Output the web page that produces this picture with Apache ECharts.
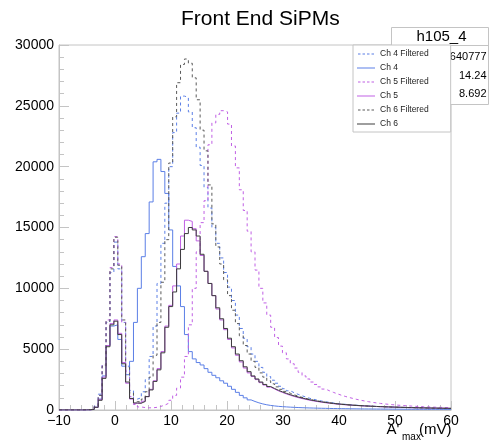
<!DOCTYPE html>
<html><head><meta charset="utf-8">
<script src="https://cdn.jsdelivr.net/npm/echarts@6/dist/echarts.min.js"></script>
<style>html,body{margin:0;padding:0;background:#fff;}#c{width:490px;height:443px;}</style>
</head><body><div id="c"></div>
<script>
// Histogram binning (100 bins from -10 to 60 mV)
const binStart = -10;
const binWidth = 0.7;
const xTicks = [-10, 0, 10, 20, 30, 40, 50, 60];
const yTicks = [0, 5000, 10000, 15000, 20000, 25000, 30000];
const seriesNames = ['Ch 4 Filtered', 'Ch 4', 'Ch 5 Filtered', 'Ch 5', 'Ch 6 Filtered', 'Ch 6'];

const ch4Filtered = [0,0,0,0,0,0,5,20,80,350,1300,3700,7200,11300,13800,11600,7200,3600,1600,900,
1000,1500,2500,4400,6900,10400,13700,17000,20000,22800,24400,25800,25700,24500,23200,21600,20100,18300,16600,15000,
13700,12500,11300,10100,9000,7800,6700,5900,5200,4600,4000,3500,3100,2750,2450,2200,1950,1750,1580,1420,
1290,1170,1060,960,880,800,740,680,630,580,540,500,470,440,410,390,370,350,330,310,
295,280,265,255,245,235,225,215,205,195,185,178,170,163,156,150,145,140,135,130];

const ch4 = [0,0,0,0,0,0,5,15,50,230,900,2800,5300,6900,7000,5800,3600,2900,4000,7200,
10000,12600,14500,17100,20400,20600,19600,17800,14800,11800,10200,8500,6200,4800,4200,3900,3700,3400,3100,2850,
2650,2400,2200,1950,1700,1450,1200,1000,830,700,590,500,430,375,335,300,275,255,235,218,
203,190,178,168,158,150,142,135,128,122,116,111,106,102,98,94,90,87,84,81,
78,76,74,72,70,68,66,64,62,60,58,57,56,55,54,53,52,51,50,49];

const ch5Filtered = [0,0,0,0,0,0,5,20,70,300,1200,3700,7400,11700,14250,12000,7200,3200,1100,450,
250,200,180,180,220,300,400,560,800,1200,1800,2700,4400,7000,10000,13000,15400,17200,21800,23600,
24300,24600,24500,23500,21700,19900,18100,16400,14700,13000,11500,10000,8800,7800,6800,5950,5250,4700,4200,3800,
3450,3100,2800,2550,2300,2100,1900,1720,1580,1450,1330,1220,1120,1030,950,870,800,740,680,630,
580,540,500,470,440,410,385,360,340,320,300,285,270,255,240,230,220,210,200,190];

const ch5 = [0,0,0,0,0,0,5,15,50,220,850,2700,5300,7100,7400,6300,3900,2200,900,550,
550,720,1100,1700,2400,3400,4800,6900,8600,10200,12000,14300,15600,15500,14900,13900,12700,11400,10400,9400,
8300,7400,6600,5800,5100,4500,3950,3450,3050,2750,2500,2250,2050,1880,1720,1570,1440,1320,1210,1110,
1020,940,870,800,740,690,640,595,555,520,485,455,430,405,385,365,345,330,315,300,
285,272,260,250,240,230,220,210,200,192,185,178,171,165,159,153,148,143,138,133];

const ch6Filtered = [0,0,0,0,0,0,5,20,70,300,1200,3600,7300,11600,14200,11900,7400,3500,1400,700,
650,900,1500,2700,4500,7200,10500,14000,20300,24100,26900,28400,28850,28500,27300,25500,23000,21300,18500,15300,
13400,12000,10700,9400,8200,7100,6100,5300,4600,4000,3500,3050,2700,2400,2150,1900,1700,1530,1380,1250,
1140,1040,950,870,800,740,680,630,590,550,510,480,450,420,400,380,360,340,320,305,
290,275,260,250,240,230,220,210,200,190,180,175,170,160,155,150,145,140,135,130];

const ch6 = [0,0,0,0,0,0,5,15,50,220,800,2600,5200,7000,7300,6200,3800,2300,950,580,
560,700,1100,1650,2350,3300,4700,6800,8500,9700,11600,13200,14500,15000,14800,14300,12800,11400,10400,9400,
8400,7500,6700,5900,5200,4600,4050,3550,3150,2800,2550,2300,2100,1930,1770,1620,1490,1370,1260,1160,
1070,990,910,840,780,720,670,625,580,540,505,475,445,420,395,375,355,338,322,306,
292,279,266,255,244,234,224,215,206,198,190,183,176,169,163,157,151,146,141,136];

const statsTitle = 'h105_4';
const statsValues = ['640777', '14.24', '8.692'];

function toSteps(vals) {
  const pts = vals.map((v, i) => [binStart + i * binWidth, v]);
  pts.push([binStart + vals.length * binWidth, vals[vals.length - 1]]);
  return pts;
}

const BLUE = '#5b7fe6', VIOLET = '#c060e4', DARK = '#3c3c3c', GREY = '#5a5a5a';
const FRAME = '#c4c4c4';
const FONT = 'Liberation Sans, Arial, sans-serif';
const DASH_ICON = 'path://M0,0h2.5v1h-2.5zM4.5,0h2.5v1h-2.5zM9,0h2.5v1h-2.5zM13.5,0h2.5v1h-2.5z';
const styles = [
  {color: BLUE, dash: [3, 3], icon: DASH_ICON},
  {color: BLUE, dash: 'solid', icon: 'rect'},
  {color: VIOLET, dash: [3, 3], icon: DASH_ICON},
  {color: VIOLET, dash: 'solid', icon: 'rect'},
  {color: GREY, dash: [3, 3], icon: DASH_ICON},
  {color: DARK, dash: 'solid', icon: 'rect'}
];
const allData = [ch4Filtered, ch4, ch5Filtered, ch5, ch6Filtered, ch6];

const fmtX = v => (v < 0 ? '\u2212' + (-v) : String(v));
const fmtY = v => String(v);

const chart = echarts.init(document.getElementById('c'), null, {renderer: 'canvas'});
chart.setOption({
  animation: false,
  backgroundColor: '#fff',
  title: {
    text: 'Front End SiPMs', left: 181, top: 9, padding: 0,
    textStyle: {fontFamily: FONT, fontSize: 21, fontWeight: 'normal', color: '#000'}
  },
  grid: {left: 59, right: 39, top: 45, bottom: 33, show: true, borderColor: FRAME, borderWidth: 1,
    containLabel: false, outerBoundsMode: 'none'},
  xAxis: {
    type: 'value', min: xTicks[0], max: xTicks[xTicks.length - 1], interval: 10,
    axisLine: {show: true, onZero: false, lineStyle: {color: FRAME, width: 1}},
    axisTick: {show: true, inside: true, length: 9, lineStyle: {color: FRAME}},
    minorTick: {show: true, splitNumber: 5, length: 5, lineStyle: {color: FRAME}},
    splitLine: {show: false}, minorSplitLine: {show: false},
    axisLabel: {color: '#000', fontFamily: FONT, fontSize: 14, margin: 4, formatter: fmtX, showMinLabel: true, showMaxLabel: true, hideOverlap: false}
  },
  yAxis: {
    type: 'value', min: yTicks[0], max: yTicks[yTicks.length - 1], interval: 5000,
    axisLine: {show: true, onZero: false, lineStyle: {color: FRAME, width: 1}},
    axisTick: {show: true, inside: true, length: 10, lineStyle: {color: FRAME}},
    minorTick: {show: true, splitNumber: 5, length: 5, lineStyle: {color: FRAME}},
    splitLine: {show: false}, minorSplitLine: {show: false},
    axisLabel: {color: '#000', fontFamily: FONT, fontSize: 14, margin: 5, formatter: fmtY, showMinLabel: true, showMaxLabel: true, hideOverlap: false}
  },
  legend: {
    orient: 'vertical', left: 353, top: 45, z: 10,
    padding: [4.5, 22, 3.5, 4], itemGap: 5, itemWidth: 18, itemHeight: 1,
    backgroundColor: '#fff', borderColor: FRAME, borderWidth: 1, borderRadius: 0,
    textStyle: {fontFamily: FONT, fontSize: 8.5, color: '#222'},
    data: seriesNames.map((n, k) => ({
      name: n,
      icon: styles[k].icon,
      itemStyle: {color: styles[k].color, borderWidth: 0, opacity: 1}
    }))
  },
  series: allData.map((arr, k) => ({
    name: seriesNames[k], type: 'line', step: 'end', symbol: 'none', showSymbol: false,
    data: toSteps(arr), clip: true,
    lineStyle: {width: 1, color: styles[k].color, type: styles[k].dash},
    itemStyle: {color: styles[k].color},
    emphasis: {disabled: true}
  })),
  graphic: [
    {type: 'rect', z: 1, shape: {x: 391.5, y: 27.5, width: 97, height: 77}, style: {fill: '#fff', stroke: FRAME, lineWidth: 1}},
    {type: 'line', z: 1, shape: {x1: 391.5, y1: 45.5, x2: 488.5, y2: 45.5}, style: {stroke: FRAME, lineWidth: 1}},
    {type: 'text', z: 2, x: 441.5, y: 37, style: {text: statsTitle, align: 'center', verticalAlign: 'middle', fontFamily: FONT, fontSize: 15, fill: '#000'}},
    {type: 'text', z: 2, x: 486.5, y: 57, style: {text: statsValues[0], align: 'right', verticalAlign: 'middle', fontFamily: FONT, fontSize: 11, fill: '#000'}},
    {type: 'text', z: 2, x: 486.5, y: 75.5, style: {text: statsValues[1], align: 'right', verticalAlign: 'middle', fontFamily: FONT, fontSize: 11, fill: '#000'}},
    {type: 'text', z: 2, x: 486.5, y: 93.5, style: {text: statsValues[2], align: 'right', verticalAlign: 'middle', fontFamily: FONT, fontSize: 11, fill: '#000'}},
    {type: 'text', z: 2, x: 386.5, y: 430, style: {text: "A'", align: 'left', verticalAlign: 'middle', fontFamily: FONT, fontSize: 15, fill: '#000'}},
    {type: 'text', z: 2, x: 402, y: 437.5, style: {text: 'max', align: 'left', verticalAlign: 'middle', fontFamily: FONT, fontSize: 10, fill: '#000'}},
    {type: 'text', z: 2, x: 451.5, y: 430, style: {text: '(mV)', align: 'right', verticalAlign: 'middle', fontFamily: FONT, fontSize: 15, fill: '#000'}}
  ]
});
</script>
</body></html>
